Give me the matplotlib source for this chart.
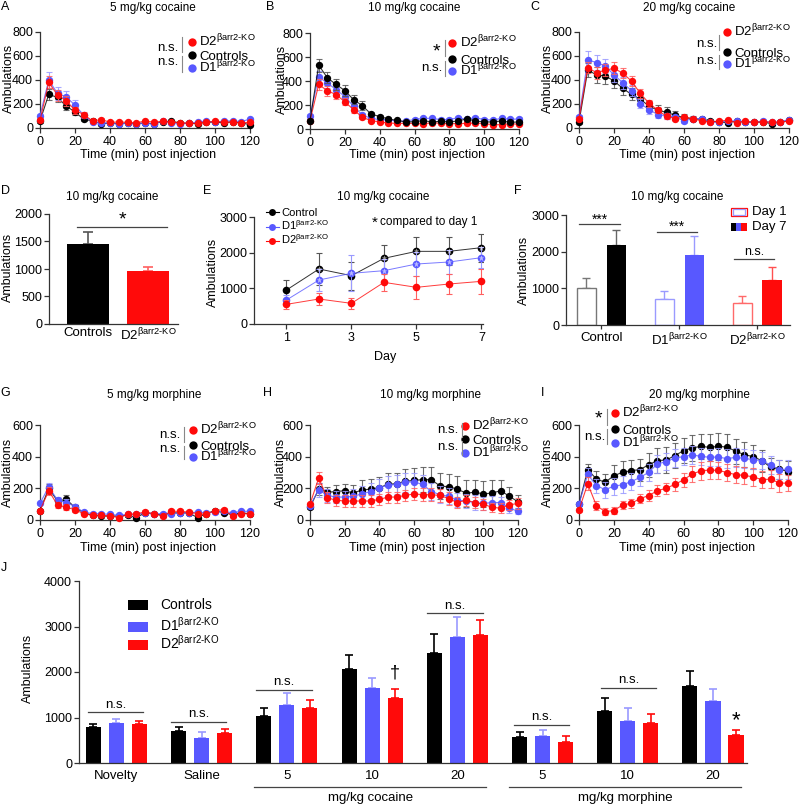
import matplotlib
matplotlib.use('Agg')
import matplotlib.pyplot as plt
from matplotlib.patches import Rectangle
from matplotlib.transforms import blended_transform_factory

plt.rcParams.update({
    'font.family': ['Liberation Sans', 'DejaVu Sans'],
    'mathtext.fontset': 'custom',
    'mathtext.rm': 'Liberation Sans',
    'mathtext.it': 'Liberation Sans:italic',
    'mathtext.bf': 'Liberation Sans:bold',
    'axes.linewidth': 0.9,
    'axes.edgecolor': '#333333',
    'xtick.color': '#333333',
    'ytick.color': '#333333',
    'xtick.labelcolor': 'black',
    'ytick.labelcolor': 'black',
    'xtick.major.width': 0.9,
    'ytick.major.width': 0.9,
    'xtick.major.size': 3.5,
    'ytick.major.size': 3.5,
    'xtick.labelsize': 9,
    'ytick.labelsize': 9,
    'xtick.major.pad': 2,
    'ytick.major.pad': 1.5,
})

# ---------------- data ----------------
TIME = [0, 5, 10, 15, 20, 25, 30, 35, 40, 45, 50, 55, 60, 65, 70, 75, 80, 85, 90, 95, 100, 105, 110, 115, 120]

# A: 5 mg/kg cocaine
A_ctrl = [59, 280, 255, 182, 134, 73, 59, 36, 42, 36, 42, 36, 42, 36, 53, 56, 42, 39, 36, 48, 50, 42, 53, 42, 28]
A_ctrl_e = [15, 45, 35, 30, 25, 15, 12, 10, 8, 8, 8, 8, 8, 8, 10, 10, 8, 8, 8, 8, 8, 8, 8, 8, 8]
A_d1 = [103, 400, 288, 260, 190, 106, 50, 42, 42, 31, 42, 36, 42, 31, 59, 42, 31, 42, 48, 59, 48, 59, 59, 53, 75]
A_d1_e = [15, 70, 55, 50, 40, 20, 12, 10, 8, 8, 8, 8, 8, 8, 10, 10, 8, 8, 8, 10, 10, 10, 10, 10, 12]
A_d2 = [64, 380, 274, 227, 148, 112, 59, 70, 48, 50, 48, 42, 59, 48, 56, 48, 45, 39, 39, 48, 56, 48, 50, 42, 48]
A_d2_e = [12, 50, 45, 40, 30, 18, 10, 10, 8, 8, 8, 8, 10, 8, 8, 8, 8, 8, 8, 8, 8, 8, 8, 8, 8]

# B: 10 mg/kg cocaine
B_ctrl = [70, 532, 426, 371, 320, 245, 195, 125, 103, 84, 72, 59, 61, 70, 59, 64, 59, 67, 84, 67, 59, 59, 67, 56, 59]
B_ctrl_e = [12, 55, 45, 45, 45, 40, 35, 20, 15, 12, 10, 10, 10, 10, 10, 10, 10, 10, 10, 10, 10, 10, 10, 10, 10]
B_d1 = [109, 435, 382, 329, 270, 190, 117, 89, 78, 78, 64, 67, 78, 89, 89, 78, 78, 95, 81, 95, 78, 75, 89, 81, 84]
B_d1_e = [15, 50, 40, 40, 35, 30, 20, 15, 12, 12, 10, 10, 12, 12, 12, 12, 12, 12, 12, 12, 12, 12, 12, 12, 12]
B_d2 = [70, 371, 318, 287, 226, 162, 98, 70, 59, 50, 47, 47, 47, 42, 53, 47, 45, 45, 47, 50, 45, 36, 36, 45, 39]
B_d2_e = [10, 45, 40, 40, 30, 25, 15, 10, 10, 8, 8, 8, 8, 8, 8, 8, 8, 8, 8, 8, 8, 8, 8, 8, 8]

# C: 20 mg/kg cocaine
C_ctrl = [48, 484, 442, 434, 392, 330, 280, 241, 182, 148, 131, 106, 87, 78, 73, 59, 50, 45, 56, 50, 48, 50, 36, 48, 64]
C_ctrl_e = [15, 60, 70, 70, 60, 55, 50, 45, 40, 45, 40, 35, 30, 20, 15, 12, 12, 12, 12, 12, 12, 12, 12, 12, 12]
C_d1 = [92, 568, 545, 517, 442, 378, 310, 204, 154, 112, 101, 92, 59, 78, 76, 48, 48, 59, 59, 53, 48, 59, 48, 50, 70]
C_d1_e = [15, 70, 65, 60, 55, 50, 45, 40, 35, 30, 25, 20, 15, 15, 12, 12, 12, 12, 12, 12, 12, 12, 12, 12, 12]
C_d2 = [78, 503, 461, 481, 498, 456, 392, 288, 207, 148, 98, 78, 92, 78, 59, 50, 59, 64, 45, 56, 48, 53, 48, 50, 56]
C_d2_e = [15, 45, 50, 50, 50, 40, 40, 35, 30, 25, 20, 15, 15, 12, 10, 10, 10, 10, 10, 10, 10, 10, 10, 10, 10]

# D: 10 mg/kg cocaine, total
D_groups = ['Controls', 'D2']
D_vals = [1455, 969]
D_errs = [223, 73]

# E: 7 days, 10 mg/kg cocaine
E_days = [1, 2, 3, 4, 5, 6, 7]
E_ctrl = [953, 1542, 1355, 1841, 2037, 2037, 2140]
E_ctrl_e = [280, 440, 390, 380, 390, 390, 390]
E_d1 = [673, 1234, 1421, 1495, 1682, 1738, 1860]
E_d1_e = [150, 300, 500, 330, 330, 330, 300]
E_d2 = [551, 701, 579, 1168, 1028, 1121, 1196]
E_d2_e = [120, 180, 150, 230, 330, 280, 360]
E_ctrl_sig = [2, 4, 5, 6, 7]
E_d1_sig = [2, 3, 4, 5, 6, 7]

# F: day 1 vs day 7
F_groups = ['Control', 'D1', 'D2']
F_day1 = [1000, 709, 608]
F_day1_e = [290, 226, 190]
F_day7 = [2190, 1917, 1227]
F_day7_e = [400, 501, 363]

# G: 5 mg/kg morphine
G_ctrl = [60, 200, 120, 130, 80, 45, 30, 25, 25, 25, 30, 15, 45, 40, 30, 45, 45, 45, 15, 40, 60, 45, 35, 45, 40]
G_ctrl_e = [10, 25, 20, 25, 15, 10, 8, 8, 8, 8, 8, 8, 10, 8, 8, 10, 10, 10, 8, 10, 12, 10, 8, 10, 10]
G_d1 = [105, 210, 125, 110, 85, 50, 40, 40, 35, 30, 35, 35, 45, 40, 40, 40, 45, 45, 50, 45, 50, 55, 45, 55, 55]
G_d1_e = [10, 25, 20, 20, 15, 10, 8, 8, 8, 8, 8, 8, 10, 8, 8, 10, 10, 10, 10, 10, 10, 10, 8, 10, 10]
G_d2 = [60, 185, 95, 80, 65, 40, 30, 30, 25, 15, 35, 40, 50, 40, 25, 55, 55, 50, 40, 35, 60, 65, 25, 40, 40]
G_d2_e = [10, 25, 20, 18, 15, 10, 8, 8, 8, 8, 8, 10, 15, 10, 8, 12, 12, 10, 10, 10, 12, 12, 8, 10, 10]

# H: 10 mg/kg morphine
H_ctrl = [80, 195, 175, 180, 185, 170, 190, 195, 205, 225, 230, 245, 250, 255, 255, 215, 210, 195, 170, 175, 165, 170, 185, 150, 115]
H_ctrl_e = [10, 40, 35, 40, 45, 50, 60, 65, 65, 70, 70, 75, 80, 80, 80, 80, 80, 85, 85, 80, 80, 80, 70, 60, 40]
H_d1 = [90, 190, 155, 145, 145, 150, 165, 180, 205, 220, 225, 240, 240, 225, 180, 160, 150, 125, 120, 110, 105, 110, 110, 75, 55]
H_d1_e = [10, 45, 40, 40, 40, 45, 50, 55, 55, 60, 60, 60, 60, 60, 55, 55, 50, 45, 45, 45, 40, 40, 35, 30, 20]
H_d2 = [100, 265, 140, 125, 120, 120, 120, 120, 130, 145, 145, 155, 165, 160, 160, 155, 135, 110, 125, 110, 100, 80, 75, 95, 105]
H_d2_e = [10, 40, 35, 35, 35, 35, 35, 35, 35, 35, 35, 35, 40, 40, 40, 40, 40, 35, 35, 35, 35, 30, 30, 30, 35]

# I: 20 mg/kg morphine
I_ctrl = [100, 318, 259, 238, 280, 301, 312, 318, 349, 375, 379, 406, 438, 455, 465, 459, 465, 461, 434, 413, 400, 375, 333, 322, 305]
I_ctrl_e = [10, 35, 50, 55, 65, 70, 70, 70, 75, 80, 80, 80, 80, 80, 80, 85, 85, 80, 80, 80, 75, 70, 60, 60, 65]
I_d1 = [101, 288, 217, 192, 213, 223, 242, 269, 301, 354, 368, 392, 400, 411, 402, 396, 398, 387, 396, 389, 381, 375, 347, 318, 322]
I_d1_e = [10, 40, 45, 50, 55, 55, 55, 55, 55, 55, 55, 55, 55, 55, 55, 55, 55, 60, 60, 60, 60, 55, 55, 60, 60]
I_d2 = [63, 229, 91, 53, 59, 95, 105, 135, 154, 185, 200, 225, 253, 291, 310, 316, 313, 300, 286, 282, 272, 255, 258, 234, 232]
I_d2_e = [10, 40, 30, 20, 20, 25, 30, 30, 35, 35, 35, 40, 45, 50, 55, 55, 55, 55, 55, 55, 55, 55, 55, 55, 50]

# J: summary
J_labels = ['Novelty', 'Saline', '5', '10', '20', '5', '10', '20']
J_ctrl = [798, 711, 1033, 2058, 2410, 579, 1150, 1685]
J_ctrl_e = [52, 80, 183, 308, 425, 110, 271, 344]
J_d1 = [872, 557, 1267, 1641, 2769, 601, 930, 1363]
J_d1_e = [95, 132, 264, 220, 432, 124, 271, 270]
J_d2 = [857, 667, 1216, 1428, 2813, 462, 886, 615]
J_d2_e = [73, 88, 161, 191, 323, 131, 184, 103]

# ---------------- style ----------------
W, H = 800, 805
CK = '#000000'
CB = '#5858FF'
CR = '#FF0A0A'
EK = '#555555'
EB = '#9A9AFF'
ER = '#FF6060'
SUP = r'$^{\mathrm{βarr2‐KO}}$'
D1L = 'D1' + SUP
D2L = 'D2' + SUP

fig = plt.figure(figsize=(W / 100, H / 100), dpi=100)


def rect(x0, x1, yt, yb):
    return [x0 / W, 1 - yb / H, (x1 - x0) / W, (yb - yt) / H]


def ftext(x, y, s, **kw):
    return fig.text(x / W, 1 - y / H, s, **kw)


def fpoint(ax, x, y, col, ms):
    ax.plot([x / W], [1 - y / H], 'o', color=col, ms=ms, mec='none',
            transform=fig.transFigure, clip_on=False)


def fline(ax, xs, ys, col='#444444', lw=0.8):
    ax.plot([x / W for x in xs], [1 - y / H for y in ys], '-', color=col, lw=lw,
            transform=fig.transFigure, clip_on=False)


def base_style(ax):
    ax.spines['top'].set_visible(False)
    ax.spines['right'].set_visible(False)
    ax.tick_params(direction='out')


def tc_panel(r, ymax, yticks, series):
    ax = fig.add_axes(r)
    base_style(ax)
    for vals, errs, col, ecol, z in series:
        ax.errorbar(TIME, vals, yerr=errs, fmt='none', ecolor=ecol, elinewidth=0.8,
                    capsize=2.2, capthick=0.8, clip_on=False, zorder=z, alpha=0.85)
        ax.plot(TIME, vals, '-', color=col, lw=0.8, alpha=0.8, zorder=z + 0.1, clip_on=False)
        ax.plot(TIME, vals, 'o', color=col, ms=5.3, mec='none', zorder=z + 0.2, clip_on=False)
    ax.set_xlim(0, 120)
    ax.set_ylim(0, ymax)
    ax.set_xticks([0, 20, 40, 60, 80, 100, 120])
    ax.set_yticks(yticks)
    return ax


def tc_legend(ax, mx, tx, ys, sigs, vx, segs):
    cols = [CR, CK, CB]
    labs = [D2L, 'Controls', D1L]
    for y, c, l in zip(ys, cols, labs):
        fpoint(ax, mx, y, c, 6)
        ftext(tx, y + 4.6, l, fontsize=9.5, ha='left', va='baseline')
    for s, x, y in sigs:
        if s == '*':
            ftext(x, y + 4, '*', fontsize=14, ha='center', va='center')
        else:
            ftext(x, y, s, fontsize=9.5, ha='right', va='center')
    for (a, b) in segs:
        fline(ax, [vx, vx], [a, b], col='#888888', lw=0.8)


# ---------------- A, B, C ----------------
axA = tc_panel(rect(40, 250, 32, 128), 800, [0, 200, 400, 600, 800],
               [(A_ctrl, A_ctrl_e, CK, EK, 3), (A_d1, A_d1_e, CB, EB, 4), (A_d2, A_d2_e, CR, ER, 5)])
tc_legend(axA, 192, 199, [42, 55, 68], [('n.s.', 178, 48), ('n.s.', 178, 62)], 182, [(37, 52), (56, 72)])

axB = tc_panel(rect(310, 519, 33, 129), 800, [0, 200, 400, 600, 800],
               [(B_d1, B_d1_e, CB, EB, 3), (B_d2, B_d2_e, CR, ER, 4), (B_ctrl, B_ctrl_e, CK, EK, 5)])
tc_legend(axB, 452, 460, [43, 59, 71], [('*', 436, 48), ('n.s.', 442, 68)], 445, [(40, 56), (61, 76)])

axC = tc_panel(rect(579, 789, 32, 128), 800, [0, 200, 400, 600, 800],
               [(C_ctrl, C_ctrl_e, CK, EK, 3), (C_d1, C_d1_e, CB, EB, 4), (C_d2, C_d2_e, CR, ER, 5)])
tc_legend(axC, 727, 734, [32, 52, 64], [('n.s.', 717, 44), ('n.s.', 717, 61)], 719, [(35, 50), (55, 69)])

for x, y, s in [(153, 8, '5 mg/kg cocaine'), (414, 8, '10 mg/kg cocaine'), (689, 8, '20 mg/kg cocaine'),
                (112, 197, '10 mg/kg cocaine'), (383, 197, '10 mg/kg cocaine'), (677, 197, '10 mg/kg cocaine'),
                (154, 395, '5 mg/kg morphine'), (431, 395, '10 mg/kg morphine'), (699, 395, '20 mg/kg morphine')]:
    ftext(x, y, s, fontsize=8.5, ha='center', va='center')

for x, y in [(148, 155), (417, 155), (687, 155), (148, 548), (417, 548), (687, 548)]:
    ftext(x, y, 'Time (min) post injection', fontsize=9, ha='center', va='center')

for x, y in [(9, 78), (282, 79), (548, 78), (8, 267), (213, 272), (524, 270),
             (8, 472), (281, 472), (548, 472), (28, 668)]:
    ftext(x, y, 'Ambulations', fontsize=9, ha='center', va='center', rotation=90)

for x, y, s in [(5, 7, 'A'), (270, 7, 'B'), (535, 7, 'C'), (5, 191, 'D'), (207, 191, 'E'),
                (518, 191, 'F'), (5, 393, 'G'), (268, 393, 'H'), (543, 393, 'I'), (4, 568, 'J')]:
    ftext(x, y, s, fontsize=9, ha='center', va='center')

# ---------------- D ----------------
axD = fig.add_axes(rect(49, 178, 214, 324))
base_style(axD)
dx = [0, 1]
axD.bar(dx, D_vals, width=0.7, color=[CK, CR], zorder=2)
for xi, v, e, ec in zip(dx, D_vals, D_errs, [EK, ER]):
    axD.errorbar([xi], [v], yerr=[[0], [e]], fmt='none', ecolor=ec, elinewidth=1.2,
                 capsize=3.5, capthick=1.2, zorder=1)
axD.set_xlim(-0.65, 1.5)
axD.set_ylim(0, 2000)
axD.set_yticks([0, 500, 1000, 1500, 2000])
axD.set_xticks(dx)
axD.set_xticklabels(['Controls', D2L], fontsize=9.5)
axD.tick_params(axis='x', length=0, pad=2)
axD.plot([-0.18, 1.32], [1769, 1769], color='#444444', lw=0.9)
axD.text(0.58, 1900, '*', fontsize=14, ha='center', va='center')

# ---------------- E ----------------
axE = fig.add_axes(rect(254, 483, 217, 324))
base_style(axE)
for vals, errs, col, ecol, z in [(E_ctrl, E_ctrl_e, CK, EK, 3), (E_d1, E_d1_e, CB, EB, 4), (E_d2, E_d2_e, CR, ER, 5)]:
    axE.errorbar(E_days, vals, yerr=errs, fmt='none', ecolor=ecol, elinewidth=0.8, capsize=2.5,
                 capthick=0.8, zorder=z)
    axE.plot(E_days, vals, '-', color=col, lw=0.7, alpha=0.8, zorder=z + 0.1)
    axE.plot(E_days, vals, 'o', color=col, ms=5.5, mec='none', zorder=z + 0.2, clip_on=False)
axE.plot(E_ctrl_sig, [E_ctrl[d - 1] for d in E_ctrl_sig], '*', color='white', ms=5, alpha=0.6, mec='none', zorder=6)
axE.plot(E_d1_sig, [E_d1[d - 1] for d in E_d1_sig], '*', color='white', ms=5, alpha=0.6, mec='none', zorder=6)
axE.set_xlim(0, 7.05)
axE.set_ylim(0, 3000)
axE.set_xticks([1, 3, 5, 7])
axE.set_yticks([0, 1000, 2000, 3000])
ftext(385, 357, 'Day', fontsize=9, ha='center', va='center')
for y, c, l in [(212, CK, 'Control'), (227, CB, D1L), (241, CR, D2L)]:
    fline(axE, [266, 279], [y, y], col=c, lw=0.8)
    fpoint(axE, 272, y, c, 5)
    ftext(281, y + 3.5, l, fontsize=8, ha='left', va='baseline')
ftext(375, 223, '*', fontsize=11, ha='center', va='center')
ftext(380, 222, 'compared to day 1', fontsize=8.5, ha='left', va='center')

# ---------------- F ----------------
axF = fig.add_axes(rect(566, 790, 215, 325))
base_style(axF)
fx = [0, 1, 2]
edge1 = ['#777777', '#9A9AFF', '#FF6A6A']
fill7 = [CK, CB, CR]
err7 = ['#666666', '#9A9AFF', '#FF5050']
for i in range(3):
    axF.bar(fx[i] - 0.192, F_day1[i], width=0.25, facecolor='white', edgecolor=edge1[i], lw=1.0, zorder=2)
    axF.errorbar([fx[i] - 0.192], [F_day1[i]], yerr=[[0], [F_day1_e[i]]], fmt='none', ecolor=edge1[i],
                 elinewidth=1.0, capsize=3.2, capthick=1.0, zorder=1)
    axF.bar(fx[i] + 0.192, F_day7[i], width=0.25, color=fill7[i], zorder=2)
    axF.errorbar([fx[i] + 0.192], [F_day7[i]], yerr=[[0], [F_day7_e[i]]], fmt='none', ecolor=err7[i],
                 elinewidth=1.0, capsize=3.2, capthick=1.0, zorder=1)
axF.set_xlim(-0.455, 2.42)
axF.set_ylim(0, 3000)
axF.set_yticks([0, 1000, 2000, 3000])
axF.set_xticks(fx)
axF.set_xticklabels(['Control', D1L, D2L], fontsize=9.5)
axF.tick_params(axis='x', length=3, pad=2)
for (a, b, v, s, ty) in [(-0.29, 0.24, 2750, '***', 2880), (0.71, 1.22, 2545, '***', 2680), (1.70, 2.22, 1790, 'n.s.', 1980)]:
    axF.plot([a, b], [v, v], color='#444444', lw=0.9)
    if s == '***':
        axF.text((a + b) / 2, ty, s, fontsize=10, ha='center', va='center')
    else:
        axF.text((a + b) / 2, ty, s, fontsize=9, ha='center', va='center')
tF = axF.transAxes
axF.add_patch(Rectangle((0.735, 0.99), 0.072, 0.075, transform=tF, facecolor='white', edgecolor=CR, lw=0.9, clip_on=False))
axF.add_patch(Rectangle((0.745, 1.003), 0.052, 0.049, transform=tF, facecolor='white', edgecolor=EB, lw=0.9, clip_on=False))
for k, c in enumerate([CK, CB, CR]):
    axF.add_patch(Rectangle((0.735 + k * 0.024, 0.855), 0.024, 0.075, transform=tF, facecolor=c,
                            edgecolor='none', clip_on=False))
axF.text(0.83, 1.027, 'Day 1', transform=tF, fontsize=9.5, ha='left', va='center')
axF.text(0.83, 0.89, 'Day 7', transform=tF, fontsize=9.5, ha='left', va='center')

# ---------------- G, H, I ----------------
axG = tc_panel(rect(40, 250, 425, 520), 600, [0, 200, 400, 600],
               [(G_ctrl, G_ctrl_e, CK, EK, 3), (G_d1, G_d1_e, CB, EB, 4), (G_d2, G_d2_e, CR, ER, 5)])
tc_legend(axG, 193, 200, [430, 445, 457], [('n.s.', 180, 435), ('n.s.', 180, 449)], 184, [(427, 442), (446, 459)])

axH = tc_panel(rect(310, 518, 425, 520), 600, [0, 200, 400, 600],
               [(H_ctrl, H_ctrl_e, CK, EK, 3), (H_d1, H_d1_e, CB, EB, 4), (H_d2, H_d2_e, CR, ER, 5)])
tc_legend(axH, 465, 472, [426, 439, 453], [('n.s.', 458, 430), ('n.s.', 458, 447)], 462, [(423, 437), (441, 455)])

axI = tc_panel(rect(579, 788, 425, 520), 600, [0, 200, 400, 600],
               [(I_ctrl, I_ctrl_e, CK, EK, 3), (I_d1, I_d1_e, CB, EB, 4), (I_d2, I_d2_e, CR, ER, 5)])
tc_legend(axI, 615, 622, [413, 429, 443], [('*', 598, 415), ('n.s.', 605, 437)], 607, [(409, 425), (429, 444)])

# ---------------- J ----------------
axJ = fig.add_axes(rect(79, 747, 581, 763))
base_style(axJ)
jx = list(range(len(J_labels)))
off = 0.27
bw = 0.178
for vals, errs, col, ecol, o in [(J_ctrl, J_ctrl_e, CK, CK, -off), (J_d1, J_d1_e, CB, EB, 0), (J_d2, J_d2_e, CR, CR, off)]:
    xs = [x + o for x in jx]
    axJ.bar(xs, vals, width=bw, color=col, zorder=2)
    axJ.errorbar(xs, vals, yerr=[[0] * len(vals), errs], fmt='none', ecolor=ecol, elinewidth=1.2,
                 capsize=3, capthick=1.2, zorder=1)
axJ.set_xlim(-0.44, 7.4)
axJ.set_ylim(0, 4000)
axJ.set_yticks([0, 1000, 2000, 3000, 4000])
axJ.set_xticks(jx)
axJ.set_xticklabels(J_labels, fontsize=9.5)
axJ.tick_params(axis='x', length=0, pad=5)
for (a, b, v) in [(-0.335, 0.31, 1114), (0.64, 1.29, 908), (1.64, 2.29, 1604), (3.65, 4.30, 3289),
                  (4.67, 5.31, 835), (5.69, 6.33, 1648)]:
    axJ.plot([a, b], [v, v], color='#444444', lw=0.9)
    axJ.text((a + b) / 2, v + 170, 'n.s.', fontsize=9.5, ha='center', va='center')
axJ.text(3 + off, 1980, '†', fontsize=13, ha='center', va='center')
axJ.text(7 + off, 920, '*', fontsize=16, ha='center', va='center')
tJ = blended_transform_factory(axJ.transData, axJ.transAxes)
axJ.plot([1.614, 4.337], [-0.132, -0.132], color='#444444', lw=0.9, transform=tJ, clip_on=False)
axJ.plot([4.607, 7.33], [-0.132, -0.132], color='#444444', lw=0.9, transform=tJ, clip_on=False)
axJ.text(2.98, -0.195, 'mg/kg cocaine', fontsize=9.5, ha='center', va='center', transform=tJ)
axJ.text(5.97, -0.195, 'mg/kg morphine', fontsize=9.5, ha='center', va='center', transform=tJ)
tA = axJ.transAxes
for y, c, l in [(0.868, CK, 'Controls'), (0.747, CB, D1L), (0.648, CR, D2L)]:
    axJ.add_patch(Rectangle((0.0734, y - 0.027), 0.03, 0.055, transform=tA, facecolor=c, edgecolor='none'))
    axJ.text(0.121, y - 0.02, l, transform=tA, fontsize=10, ha='left', va='baseline')

fig.savefig('out.png', dpi=100)
